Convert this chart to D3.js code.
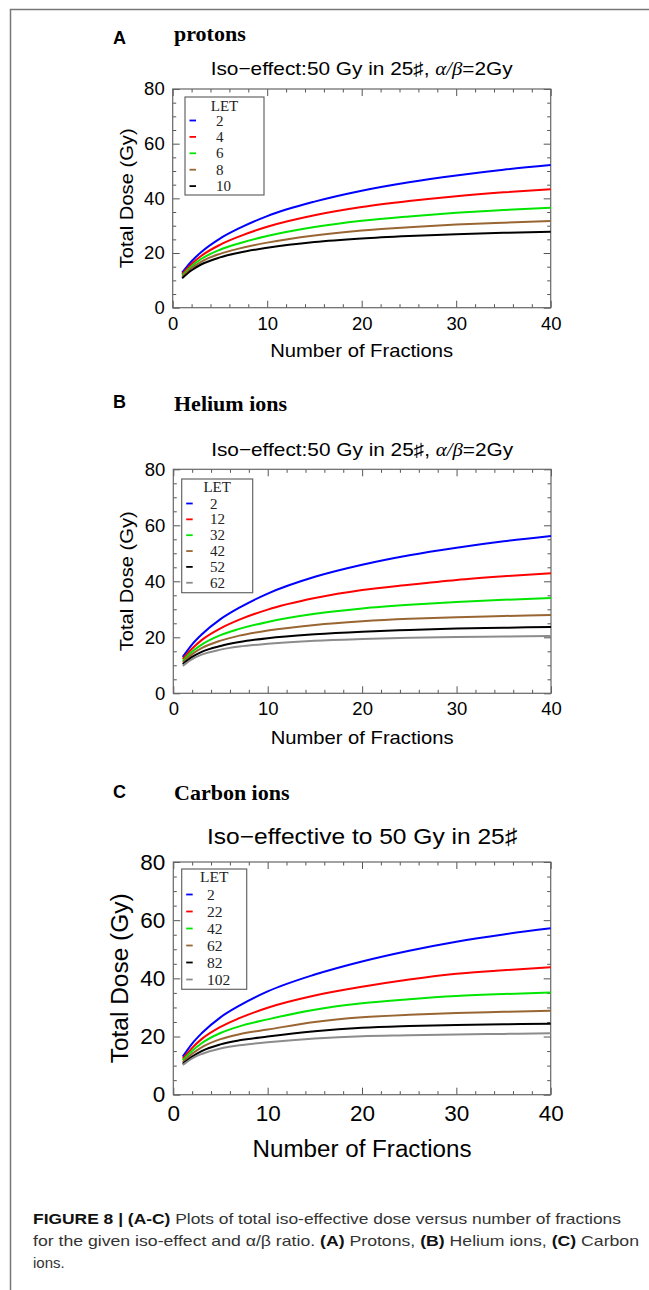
<!DOCTYPE html>
<html>
<head>
<meta charset="utf-8">
<script src="https://cdn.jsdelivr.net/npm/d3@7"></script>
<style>
  body { margin: 0; background: #fff; }
  svg { display: block; }
</style>
</head>
<body>
<svg id="fig" width="649" height="1290"></svg>
<script>
// DATA
const fractions = [1, 2, 3, 5, 7, 10, 15, 20, 25, 30, 35, 40];

const letProtons = [2, 4, 6, 8, 10];
const doseProtons = [
  [12.8, 17.0, 20.3, 25.3, 29.0, 33.5, 38.8, 42.8, 45.9, 48.4, 50.5, 52.2],
  [12.3, 16.0, 18.9, 23.0, 26.0, 29.6, 33.8, 36.8, 39.0, 40.8, 42.2, 43.3],
  [11.8, 15.2, 17.8, 21.2, 23.5, 26.2, 29.5, 31.8, 33.4, 34.7, 35.7, 36.6],
  [11.3, 14.5, 16.8, 19.7, 21.6, 23.8, 26.4, 28.2, 29.4, 30.4, 31.1, 31.7],
  [10.8, 13.7, 15.8, 18.4, 20.1, 21.9, 24.0, 25.3, 26.2, 26.9, 27.4, 27.8]
];

const letHelium = [2, 12, 32, 42, 52, 62];
const doseHelium = [
  [13.0, 17.5, 21.0, 26.5, 30.6, 35.6, 41.6, 45.9, 49.3, 52.0, 54.3, 56.2],
  [12.3, 16.0, 19.0, 23.2, 26.3, 29.9, 34.0, 36.9, 38.8, 40.5, 41.8, 42.9],
  [11.6, 14.9, 17.4, 20.8, 23.0, 25.5, 28.4, 30.3, 31.6, 32.6, 33.4, 34.0],
  [11.0, 14.0, 16.1, 18.8, 20.6, 22.4, 24.4, 25.7, 26.6, 27.2, 27.6, 28.0],
  [10.4, 13.0, 14.8, 16.9, 18.3, 19.7, 21.1, 22.0, 22.6, 23.1, 23.4, 23.7],
  [9.8, 12.2, 13.8, 15.6, 16.7, 17.7, 18.8, 19.4, 19.8, 20.1, 20.3, 20.5]
];

const letCarbon = [2, 22, 42, 62, 82, 102];
const doseCarbon = [
  [13.1, 17.6, 21.1, 26.6, 30.6, 35.5, 41.3, 45.8, 49.5, 52.6, 55.1, 57.2],
  [12.4, 16.1, 19.1, 23.3, 26.3, 29.9, 34.1, 37.1, 39.6, 41.6, 42.8, 43.8],
  [11.8, 15.1, 17.7, 21.2, 23.5, 25.9, 29.2, 31.4, 32.8, 33.9, 34.6, 35.1],
  [11.2, 14.1, 16.3, 19.1, 20.8, 22.4, 25.0, 26.6, 27.5, 28.1, 28.5, 28.9],
  [10.6, 13.1, 15.0, 17.3, 18.7, 20.0, 21.8, 23.0, 23.6, 24.0, 24.2, 24.4],
  [10.2, 12.5, 14.0, 15.9, 17.0, 18.0, 19.3, 20.1, 20.4, 20.7, 20.9, 21.1]
];

const xTicks = [0, 10, 20, 30, 40];
const yTicks = [0, 20, 40, 60, 80];
const lineColors = ["#0000ff", "#ff0000", "#00e600", "#996633", "#000000", "#8c8c8c"];

const svg = d3.select("#fig");

// figure border (top + left)
svg.append("path")
  .attr("d", "M10.5,1290 V9.5 H649")
  .attr("fill", "none")
  .attr("stroke", "#777")
  .attr("stroke-width", 1.5);

/* PANEL DRAWING */
function drawPanel(p) {
  const x = d3.scaleLinear().domain([0, 40]).range([p.left, p.right]);
  const y = d3.scaleLinear().domain([0, 80]).range([p.bottom, p.top]);
  const g = svg.append("g");

  // panel letter + heading
  g.append("text")
    .attr("x", 113).attr("y", p.letterY)
    .attr("font-family", "Liberation Sans, Arial, sans-serif")
    .attr("font-weight", "bold").attr("font-size", 18)
    .text(p.letter);
  g.append("text")
    .attr("x", 174).attr("y", p.headY)
    .attr("font-family", "Liberation Serif, Times New Roman, serif")
    .attr("font-weight", "bold").attr("font-size", 22)
    .text(p.heading);

  // plot title
  const t = g.append("text")
    .attr("x", (p.left + p.right) / 2).attr("y", p.titleY)
    .attr("text-anchor", "middle")
    .attr("font-family", "Liberation Sans, Arial, sans-serif")
    .attr("font-size", p.titleSize)
    .attr("textLength", p.titleW)
    .attr("lengthAdjust", "spacingAndGlyphs");
  t.append("tspan").text(p.title);
  if (p.ratio) {
    t.append("tspan").attr("font-family", "Liberation Serif, serif")
      .attr("font-style", "italic").text("α/β");
    t.append("tspan").text("=2Gy");
  }

  // minor ticks, all four sides, inside the frame
  const xMinor = d3.range(0, 41, 2).filter(v => v % 10 !== 0);
  const yMinor = d3.range(0, 81, 5).filter(v => v % 20 !== 0);
  const axes = [
    [d3.axisBottom(x), `translate(0,${p.bottom})`],
    [d3.axisTop(x), `translate(0,${p.top})`],
    [d3.axisLeft(y), `translate(${p.left},0)`],
    [d3.axisRight(y), `translate(${p.right},0)`]
  ];
  axes.forEach(([ax, tr], i) => {
    const isX = i < 2;
    g.append("g").attr("transform", tr)
      .call(ax.tickValues(isX ? xMinor : yMinor).tickSizeInner(-3.5).tickSizeOuter(0).tickFormat(""));
  });

  // major ticks (labels only on bottom/left)
  const bottomAx = g.append("g").attr("transform", `translate(0,${p.bottom})`)
    .call(d3.axisBottom(x).tickValues(xTicks).tickSizeInner(-7).tickSizeOuter(0).tickPadding(p.xPad));
  const leftAx = g.append("g").attr("transform", `translate(${p.left},0)`)
    .call(d3.axisLeft(y).tickValues(yTicks).tickSizeInner(-7).tickSizeOuter(0).tickPadding(8));
  g.append("g").attr("transform", `translate(0,${p.top})`)
    .call(d3.axisTop(x).tickValues(xTicks).tickSizeInner(-7).tickSizeOuter(0).tickFormat(""));
  g.append("g").attr("transform", `translate(${p.right},0)`)
    .call(d3.axisRight(y).tickValues(yTicks).tickSizeInner(-7).tickSizeOuter(0).tickFormat(""));

  g.selectAll(".domain").remove();
  g.selectAll(".tick line").attr("stroke", "#555");
  [bottomAx, leftAx].forEach(a => a.selectAll("text")
    .attr("font-family", "Liberation Sans, Arial, sans-serif")
    .attr("font-size", p.tickSize)
    .attr("fill", "#000"));

  // frame
  g.append("rect")
    .attr("x", p.left).attr("y", p.top)
    .attr("width", p.right - p.left).attr("height", p.bottom - p.top)
    .attr("fill", "none").attr("stroke", "#666").attr("stroke-width", 1.2);

  // axis titles
  g.append("text")
    .attr("x", (p.left + p.right) / 2).attr("y", p.xLabelY)
    .attr("text-anchor", "middle")
    .attr("font-family", "Liberation Sans, Arial, sans-serif")
    .attr("font-size", p.labelSize)
    .attr("textLength", p.xLabelW)
    .attr("lengthAdjust", "spacingAndGlyphs")
    .text("Number of Fractions");
  g.append("text")
    .attr("transform", `translate(${p.yLabelX},${(p.top + p.bottom) / 2}) rotate(-90)`)
    .attr("text-anchor", "middle")
    .attr("font-family", "Liberation Sans, Arial, sans-serif")
    .attr("font-size", p.labelSize)
    .attr("textLength", p.yLabelW)
    .attr("lengthAdjust", "spacingAndGlyphs")
    .text("Total Dose (Gy)");

  // curves
  const line = d3.line()
    .x((d, i) => x(fractions[i]))
    .y(d => y(d))
    .curve(d3.curveMonotoneX);

  g.selectAll("path.curve")
    .data(p.doses)
    .join("path")
    .attr("class", "curve")
    .attr("d", line)
    .attr("fill", "none")
    .attr("stroke", (d, i) => lineColors[i])
    .attr("stroke-width", 2);

  // legend
  const L = p.legend;
  g.append("rect")
    .attr("x", L.x).attr("y", L.y).attr("width", L.w).attr("height", L.h)
    .attr("fill", "#fff").attr("stroke", "#666").attr("stroke-width", 1.2);
  g.append("text")
    .attr("x", L.x + L.w / 2).attr("y", L.titleY)
    .attr("text-anchor", "middle")
    .attr("font-family", "Liberation Serif, Times New Roman, serif")
    .attr("font-size", L.font)
    .attr("fill", "#222")
    .text("LET");
  const rows = g.selectAll("g.lrow")
    .data(p.lets)
    .join("g")
    .attr("class", "lrow")
    .attr("transform", (d, i) => `translate(0,${L.row0 + i * L.step})`);
  rows.append("line")
    .attr("x1", L.x + 4.5).attr("x2", L.x + 11)
    .attr("stroke", (d, i) => lineColors[i])
    .attr("stroke-width", 1.8);
  rows.append("text")
    .attr("x", L.textX).attr("y", 5)
    .attr("font-family", "Liberation Serif, Times New Roman, serif")
    .attr("font-size", L.font)
    .attr("fill", "#222")
    .text(d => d);
}

drawPanel({
  letter: "A", letterY: 44, heading: "protons", headY: 41,
  title: "Iso\u2212effect:50 Gy in 25\u266F, ", ratio: true, titleY: 75, titleSize: 18.5, titleW: 302,
  left: 172.7, right: 550.7, top: 89, bottom: 307.7,
  tickSize: 18.5, xPad: 9, labelSize: 19, xLabelY: 357, xLabelW: 183, yLabelX: 133, yLabelW: 140,
  lets: letProtons, doses: doseProtons,
  legend: { x: 185, y: 97, w: 79, h: 98, titleY: 111, row0: 120.5, step: 16.4, textX: 216, font: 15 }
});

drawPanel({
  letter: "B", letterY: 408, heading: "Helium ions", headY: 410.5,
  title: "Iso\u2212effect:50 Gy in 25\u266F, ", ratio: true, titleY: 456, titleSize: 18.5, titleW: 302,
  left: 173.3, right: 551, top: 469.3, bottom: 693.3,
  tickSize: 18.5, xPad: 9, labelSize: 19, xLabelY: 744, xLabelW: 183, yLabelX: 133, yLabelW: 140,
  lets: letHelium, doses: doseHelium,
  legend: { x: 181.7, y: 479, w: 71, h: 113.7, titleY: 492, row0: 503.5, step: 15.85, textX: 210, font: 15 }
});

drawPanel({
  letter: "C", letterY: 798, heading: "Carbon ions", headY: 800,
  title: "Iso\u2212effective to 50 Gy in 25\u266F", ratio: false, titleY: 844, titleSize: 22.5, titleW: 310,
  left: 173.3, right: 550.7, top: 862, bottom: 1094.7,
  tickSize: 22.5, xPad: 10, labelSize: 23, xLabelY: 1157, xLabelW: 219, yLabelX: 128, yLabelW: 170,
  lets: letCarbon, doses: doseCarbon,
  legend: { x: 181.7, y: 869, w: 65, h: 120.3, titleY: 882, row0: 894.5, step: 17, textX: 207, font: 15.5 }
});

// caption
const cap = svg.append("g")
  .attr("font-family", "Liberation Sans, Arial, sans-serif")
  .attr("font-size", 15)
  .attr("fill", "#333");

const c1 = cap.append("text").attr("x", 33).attr("y", 1224)
  .attr("textLength", 588).attr("lengthAdjust", "spacingAndGlyphs");
c1.append("tspan").attr("font-weight", "bold").attr("fill", "#111").text("FIGURE 8 | (A-C)");
c1.append("tspan").text(" Plots of total iso-effective dose versus number of fractions");

const c2 = cap.append("text").attr("x", 33).attr("y", 1246)
  .attr("textLength", 606).attr("lengthAdjust", "spacingAndGlyphs");
c2.append("tspan").text("for the given iso-effect and α/β ratio. ");
c2.append("tspan").attr("font-weight", "bold").attr("fill", "#111").text("(A)");
c2.append("tspan").text(" Protons, ");
c2.append("tspan").attr("font-weight", "bold").attr("fill", "#111").text("(B)");
c2.append("tspan").text(" Helium ions, ");
c2.append("tspan").attr("font-weight", "bold").attr("fill", "#111").text("(C)");
c2.append("tspan").text(" Carbon");

cap.append("text").attr("x", 33).attr("y", 1268).text("ions.");
</script>
</body>
</html>
